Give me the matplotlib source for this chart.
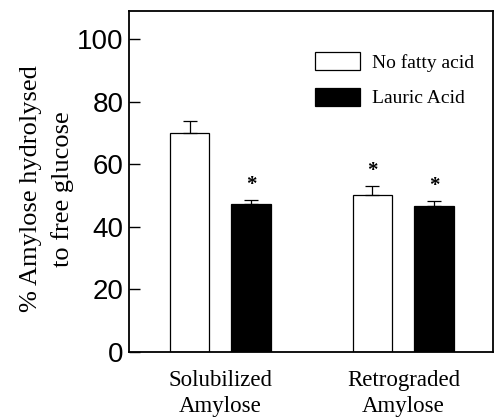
import numpy as np
import matplotlib
matplotlib.use("Agg")
import matplotlib.pyplot as plt

groups = ["Solubilized\nAmylose", "Retrograded\nAmylose"]
series = ["No fatty acid", "Lauric Acid"]
no_fatty = [70.0, 50.1]
no_fatty_err = [3.7, 2.9]
lauric = [47.3, 46.5]
lauric_err = [1.3, 1.7]
# significance stars (True = marked)
star_no_fatty = [False, True]
star_lauric = [True, True]

serif = "Liberation Serif"
sans = "Liberation Sans"

fig = plt.figure(figsize=(4.96, 4.18), dpi=100)
ax = fig.add_axes([0.260, 0.158, 0.734, 0.816])

x = np.arange(len(groups))
w = 0.218
off = 0.169

ax.bar(x - off, no_fatty, w, color="white", edgecolor="black", linewidth=0.9,
       label=series[0], zorder=2)
ax.bar(x + off, lauric, w, color="black", edgecolor="black", linewidth=0.9,
       label=series[1], zorder=2)
ax.errorbar(x - off, no_fatty, yerr=[np.zeros(2), no_fatty_err], fmt="none",
            ecolor="black", elinewidth=0.9, capsize=5, capthick=0.9, zorder=3)
ax.errorbar(x + off, lauric, yerr=[np.zeros(2), lauric_err], fmt="none",
            ecolor="black", elinewidth=0.9, capsize=5, capthick=0.9, zorder=3)

star_gap = 4.8
for i in range(len(groups)):
    if star_no_fatty[i]:
        ax.text(x[i] - off, no_fatty[i] + no_fatty_err[i] + star_gap, "*", ha="center",
                va="center", fontsize=15, fontweight="bold", family=serif)
    if star_lauric[i]:
        ax.text(x[i] + off, lauric[i] + lauric_err[i] + star_gap, "*", ha="center",
                va="center", fontsize=15, fontweight="bold", family=serif)

ax.set_xlim(-0.5, 1.49)
ax.set_ylim(0, 109)
ax.set_yticks([0, 20, 40, 60, 80, 100])
ax.set_xticks(x)
ax.set_xticklabels(groups, family=serif, fontsize=16.5, linespacing=1.3)
ax.tick_params(axis="x", length=0, pad=13)
ax.tick_params(axis="y", direction="in", length=8, width=1.0, pad=4, labelsize=20)
for lab in ax.get_yticklabels():
    lab.set_family(sans)
for sp in ax.spines.values():
    sp.set_linewidth(1.3)

ax.set_ylabel("% Amylose hydrolysed\nto free glucose", family=serif, fontsize=19,
              linespacing=1.5)
ax.yaxis.set_label_coords(-0.151, 0.478)

ax.legend(loc="upper right", bbox_to_anchor=(0.995, 0.93), frameon=False,
          prop={"family": serif, "size": 14}, handlelength=2.3, handleheight=1.0,
          labelspacing=0.85, handletextpad=0.6)

fig.savefig("out.png", dpi=100)
